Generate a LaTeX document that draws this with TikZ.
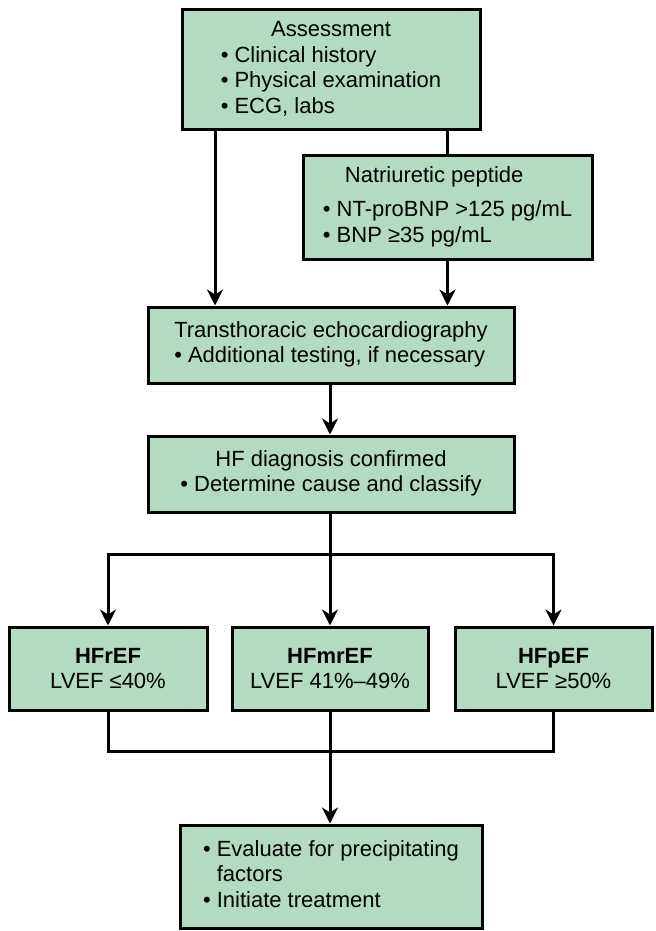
\documentclass[tikz,border=0pt]{standalone}
\usepackage{fontspec}
\setmainfont{Liberation Sans}
\usetikzlibrary{arrows.meta}
\definecolor{boxgreen}{HTML}{B3DBC2}

\begin{document}
\begin{tikzpicture}[x=0.5pt, y=-0.5pt,
    box/.style={draw, line width=1.5pt, fill=boxgreen, inner sep=0pt,
      font=\fontsize{11}{12.75}\selectfont},
    link/.style={line width=1.5pt},
    arr/.style={link, -{Stealth[length=8pt, width=8pt, inset=2.5pt]}}]
  \useasboundingbox (0,0) rectangle (656,931);

  % work-up
  \node[box, minimum width=149pt, minimum height=60pt] (assess) at (331,70)
    {\begin{tabular}{@{}l@{}}
      \multicolumn{1}{@{}c@{}}{Assessment}\\
      • Clinical history\\
      • Physical examination\\
      • ECG, labs
    \end{tabular}};
  \node[box, minimum width=144.5pt, minimum height=52pt] (natri) at (447.5,207)
    {\begin{tabular}{@{}l@{}}
      \hspace{1em}Natriuretic peptide\\[4.5pt]
      • NT-proBNP >125 pg/mL\\
      • BNP ≥35 pg/mL
    \end{tabular}};
  \node[box, minimum width=183pt, minimum height=38pt] (tte) at (331,345)
    {\begin{tabular}{@{}l@{}}
      Transthoracic echocardiography\\
      • Additional testing, if necessary
    \end{tabular}};
  \node[box, minimum width=183pt, minimum height=38pt] (hfdx) at (331,474)
    {\begin{tabular}{@{}l@{}}
      \multicolumn{1}{@{}c@{}}{HF diagnosis confirmed}\\
      • Determine cause and classify
    \end{tabular}};

  % ejection fraction classes
  \node[box, minimum width=99pt, minimum height=41.5pt, align=center] (hfref) at (108,668.5)
    {\textbf{HFrEF}\\LVEF ≤40\%};
  \node[box, minimum width=98pt, minimum height=41.5pt, align=center] (hfmref) at (330,668.5)
    {\textbf{HFmrEF}\\LVEF 41\%–49\%};
  \node[box, minimum width=98.5pt, minimum height=41.5pt, align=center] (hfpef) at (553.5,668.5)
    {\textbf{HFpEF}\\LVEF ≥50\%};

  % next steps
  \node[box, minimum width=151pt, minimum height=51.5pt] (eval) at (331,876.5)
    {\begin{tabular}{@{}l@{}}
      • Evaluate for precipitating\\
      \hphantom{•}~factors\\
      • Initiate treatment
    \end{tabular}};

  \coordinate (split) at (330,554);
  \coordinate (join) at (330,751);

  % connectors
  \draw[arr] ([xshift=-58pt]assess.south) -- ([xshift=-58pt]assess.south |- tte.north);
  \draw[link] (assess.south -| natri.north) -- (natri.north);
  \draw[arr] (natri.south) -- (natri.south |- tte.north);
  \draw[arr] (tte.south -| split) -- (hfdx.north -| split);
  \draw[link] (hfdx.south -| split) -- (split);
  \foreach \cls in {hfref, hfmref, hfpef}{
    \draw[arr] (split) -| (\cls.north);
  }
  \draw[link] (hfref.south) |- (join) -| (hfpef.south);
  \draw[link] (hfmref.south) -- (join);
  \draw[arr] (join) -- (eval.north -| join);
\end{tikzpicture}
\end{document}
